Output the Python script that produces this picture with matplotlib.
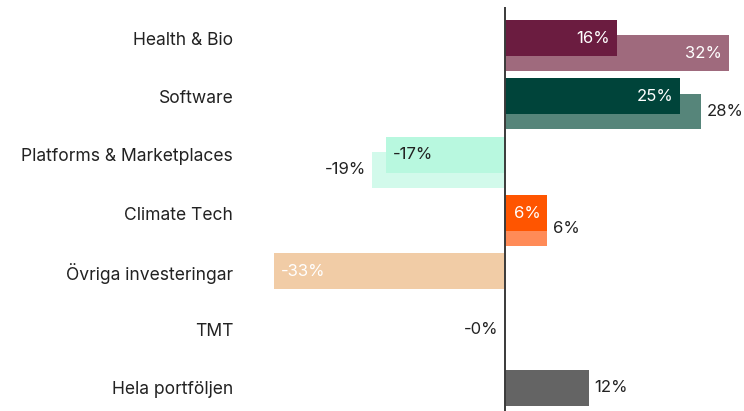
import matplotlib.pyplot as plt
import numpy as np

plt.rcParams['font.family'] = ['Inter', 'DejaVu Sans']

# data
categories = ['Health & Bio', 'Software', 'Platforms & Marketplaces', 'Climate Tech',
              'Övriga investeringar', 'TMT', 'Hela portföljen']
front = [16, 25, -17, 6, -33, -0.2, 12]          # first bar in each row
back = [32, 28, -19, 6, None, None, None]        # second (offset) bar, where it exists
front_colors = ['#6b1c40', '#00443a', '#b8f8df', '#ff5500', '#f1cca6', '#d0d0d0', '#646464']
back_colors = ['#9f6a7d', '#56857a', '#d2faeb', '#ff8b57', None, None, None]
front_text = ['white', 'white', '#222222', 'white', 'white', '#222222', '#222222']
back_text = ['white', '#222222', '#222222', '#222222', None, None, None]

fig = plt.figure(figsize=(7.44, 4.11), dpi=100)
ax = fig.add_axes([270 / 744, 0, 465 / 744, 404 / 411])

y = np.arange(len(categories))
h = 0.615
off = 0.26


def label(val, yy, inside, color):
    txt = '%d%%' % round(val) if round(val) != 0 else ('-0%' if val < 0 else '0%')
    sign = 1 if val >= 0 else -1
    if inside:
        dx, ha = -4.8 * sign, ('right' if sign > 0 else 'left')
    else:
        dx, ha = 4 * sign, ('left' if sign > 0 else 'right')
    ax.annotate(txt, (val, yy), xytext=(dx, 0), textcoords='offset points',
                ha=ha, va='center', color=color, fontsize=12)


for i in range(len(categories)):
    b = back[i]
    if b is not None:
        ax.barh(y[i] + off, b, height=h, color=back_colors[i], zorder=1)
    ax.barh(y[i], front[i], height=h, color=front_colors[i], zorder=2)

for i in range(len(categories)):
    f = front[i]
    b = back[i]
    if b is not None:
        label(f, y[i], True, front_text[i])
        label(b, y[i] + off, abs(b) - abs(f) > 6, back_text[i])
    else:
        label(f, y[i], abs(f) > 20, front_text[i])

ax.axvline(0, color='#3a3a3a', lw=1.4, zorder=5)
ax.set_xlim((270 - 505) / 7, (735 - 505) / 7)
ax.set_ylim(6 + 23 / 58.3, -31 / 58.3)
ax.set_yticks(y)
ax.set_yticklabels(categories, fontsize=12.6, color='#222222')
ax.tick_params(axis='y', length=0, pad=26.5)
ax.set_xticks([])
for s in ax.spines.values():
    s.set_visible(False)

fig.savefig('out.png', dpi=100)
